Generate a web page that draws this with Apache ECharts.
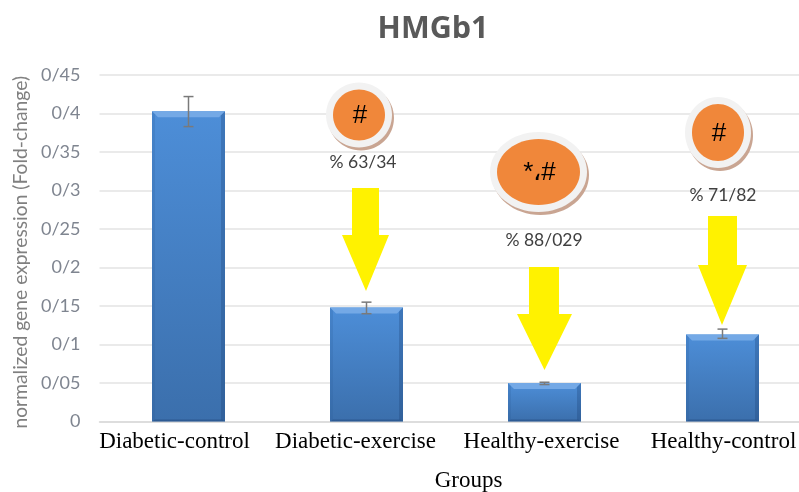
<!DOCTYPE html>
<html>
<head>
<meta charset="utf-8">
<script src="https://cdn.jsdelivr.net/npm/echarts@6/dist/echarts.min.js"></script>
<style>
  html, body { margin: 0; padding: 0; background: #fff; }
  #chart { width: 799px; height: 492px; overflow: hidden; }
</style>
</head>
<body>
<div id="chart"></div>
<script>
const categories = ['Diabetic-control', 'Diabetic-exercise', 'Healthy-exercise', 'Healthy-control']
const values = [0.403, 0.148, 0.05, 0.113]
const errLow = [0.383, 0.14, 0.048, 0.108]
const errHigh = [0.422, 0.155, 0.051, 0.12]
const yTicks = ['0', '0/05', '0/1', '0/15', '0/2', '0/25', '0/3', '0/35', '0/4', '0/45']
const percentLabels = ['% 63/34', '% 88/029', '% 71/82']
const badgeLabels = ['#', '*،#', '#']

// annotation layout, in pixels
const badges = [
  { cx: 359, cy: 115, rx: 26, ry: 25.5, ring: 7 },
  { cx: 538.5, cy: 172, rx: 41.5, ry: 33, ring: 7 },
  { cx: 718, cy: 132.5, rx: 26, ry: 28.5, ring: 7 }
]
const percentPos = [[363, 162], [544, 240], [723, 195]]
const arrows = [
  { x0: 352, x1: 379, top: 188, neck: 235, hx0: 342, hx1: 389, tipX: 366, tipY: 291 },
  { x0: 529, x1: 559, top: 267, neck: 314, hx0: 517, hx1: 572, tipX: 544.5, tipY: 370 },
  { x0: 708, x1: 737, top: 216, neck: 265, hx0: 698, hx1: 747, tipX: 722, tipY: 325 }
]
// category labels sit off-centre from their bars in the original
const labelShift = [-14, -11, -3, 1]

const BAR_W = 73

function annotations() {
  const out = []
  badges.forEach((b, i) => {
    out.push({ type: 'ellipse', z: 20, shape: { cx: b.cx + 2, cy: b.cy + 3, rx: b.rx + b.ring, ry: b.ry + b.ring }, style: { fill: '#c9a592' } })
    out.push({ type: 'ellipse', z: 21, shape: { cx: b.cx, cy: b.cy, rx: b.rx + b.ring, ry: b.ry + b.ring }, style: { fill: '#f2f2f2' } })
    out.push({ type: 'ellipse', z: 22, shape: { cx: b.cx, cy: b.cy, rx: b.rx, ry: b.ry }, style: { fill: '#f0873a' } })
    out.push({
      type: 'text', z: 23, x: b.cx + 1, y: b.cy + 1,
      style: { text: badgeLabels[i], fill: '#000', font: '26px "Liberation Sans"', textAlign: 'center', textVerticalAlign: 'middle' }
    })
  })
  percentLabels.forEach((t, i) => {
    out.push({
      type: 'text', z: 23, x: percentPos[i][0], y: percentPos[i][1],
      style: { text: t, fill: '#404040', font: '17.5px "Lato"', textAlign: 'center', textVerticalAlign: 'middle' }
    })
  })
  arrows.forEach(a => {
    out.push({
      type: 'polygon', z: 20,
      shape: { points: [[a.x0, a.top], [a.x1, a.top], [a.x1, a.neck], [a.hx1, a.neck], [a.tipX, a.tipY], [a.hx0, a.neck], [a.x0, a.neck]] },
      style: { fill: '#fff200' }
    })
  })
  return out
}

// bevel over the plain bars, same look as the office chart style
function renderBevel(params, api) {
  const top = api.coord([api.value(0), api.value(1)])
  const base = api.coord([api.value(0), 0])
  const l = top[0] - BAR_W / 2
  const r = top[0] + BAR_W / 2
  const b = 6
  return {
    type: 'group',
    children: [
      { type: 'polygon', shape: { points: [[l, top[1]], [r, top[1]], [r - b, top[1] + b], [l + b, top[1] + b]] }, style: { fill: '#74a9e6' } },
      { type: 'polygon', shape: { points: [[l, top[1]], [l + 3, top[1] + 3], [l + 3, base[1] - 2], [l, base[1]]] }, style: { fill: 'rgba(40,90,150,0.2)' } },
      { type: 'polygon', shape: { points: [[r, top[1]], [r - 4, top[1] + 4], [r - 4, base[1] - 2], [r, base[1]]] }, style: { fill: 'rgba(25,60,110,0.28)' } },
      { type: 'polygon', shape: { points: [[l, base[1]], [r, base[1]], [r - 3, base[1] - 2], [l + 3, base[1] - 2]] }, style: { fill: 'rgba(25,60,110,0.4)' } }
    ]
  }
}

function renderError(params, api) {
  const lo = api.coord([api.value(0), api.value(1)])
  const hi = api.coord([api.value(0), api.value(2)])
  const cap = 5
  const st = { stroke: '#7a7a7a', lineWidth: 1.5 }
  return {
    type: 'group',
    children: [
      { type: 'line', shape: { x1: lo[0], y1: lo[1], x2: hi[0], y2: hi[1] }, style: st },
      { type: 'line', shape: { x1: lo[0] - cap, y1: lo[1], x2: lo[0] + cap, y2: lo[1] }, style: st },
      { type: 'line', shape: { x1: hi[0] - cap, y1: hi[1], x2: hi[0] + cap, y2: hi[1] }, style: st }
    ]
  }
}

const labelRich = {}
labelShift.forEach((s, i) => {
  labelRich['l' + i] = {
    fontFamily: 'Liberation Serif',
    fontSize: 23,
    color: '#000',
    padding: s < 0 ? [0, -2 * s, 0, 0] : [0, 0, 0, 2 * s]
  }
})

const chart = echarts.init(document.getElementById('chart'), null, { renderer: 'canvas' })
chart.setOption({
  animation: false,
  backgroundColor: '#fff',
  title: {
    text: 'HMGb1',
    left: 428,
    top: 9,
    textAlign: 'center',
    textStyle: { fontFamily: 'Open Sans', fontSize: 30.5, fontWeight: 'bold', color: '#595959' }
  },
  grid: { left: 99.5, top: 75, width: 712, height: 346.5, outerBoundsMode: 'none' },
  xAxis: {
    type: 'category',
    data: categories,
    name: 'Groups',
    nameLocation: 'middle',
    nameGap: 48,
    nameTextStyle: { fontFamily: 'Liberation Serif', fontSize: 23, color: '#000', padding: [0, 0, 0, 26] },
    axisTick: { show: false },
    axisLine: { lineStyle: { color: '#d9d9d9', width: 1.5 } },
    axisLabel: {
      interval: 0,
      margin: 9,
      formatter: (v, i) => '{l' + i + '|' + v + '}',
      rich: labelRich
    }
  },
  yAxis: {
    type: 'value',
    min: 0,
    max: 0.45,
    interval: 0.05,
    name: 'normalized gene expression (Fold-change)',
    nameLocation: 'middle',
    nameGap: 62,
    nameTextStyle: { fontFamily: 'Lato', fontSize: 19.3, color: '#808080', padding: [0, 8, 0, 0] },
    axisLine: { show: false },
    axisTick: { show: false },
    splitLine: { lineStyle: { color: '#e3e3e3', width: 1.5 } },
    axisLabel: {
      margin: 19,
      fontFamily: 'Lato',
      fontSize: 18,
      color: '#7f8590',
      formatter: (v) => yTicks[Math.round(v / 0.05)]
    }
  },
  series: [
    {
      type: 'bar',
      data: values,
      barWidth: BAR_W,
      itemStyle: {
        color: new echarts.graphic.LinearGradient(0, 0, 0, 1, [
          { offset: 0, color: '#4d8ed8' },
          { offset: 1, color: '#3b6fac' }
        ])
      }
    },
    {
      type: 'custom',
      renderItem: renderBevel,
      data: values.map((v, i) => [i, v]),
      encode: { x: 0, y: 1 },
      z: 3
    },
    {
      type: 'custom',
      renderItem: renderError,
      data: errLow.map((v, i) => [i, v, errHigh[i]]),
      encode: { x: 0, y: [1, 2] },
      z: 4
    }
  ],
  graphic: annotations()
})

window.addEventListener('resize', () => chart.resize())
</script>
</body>
</html>
